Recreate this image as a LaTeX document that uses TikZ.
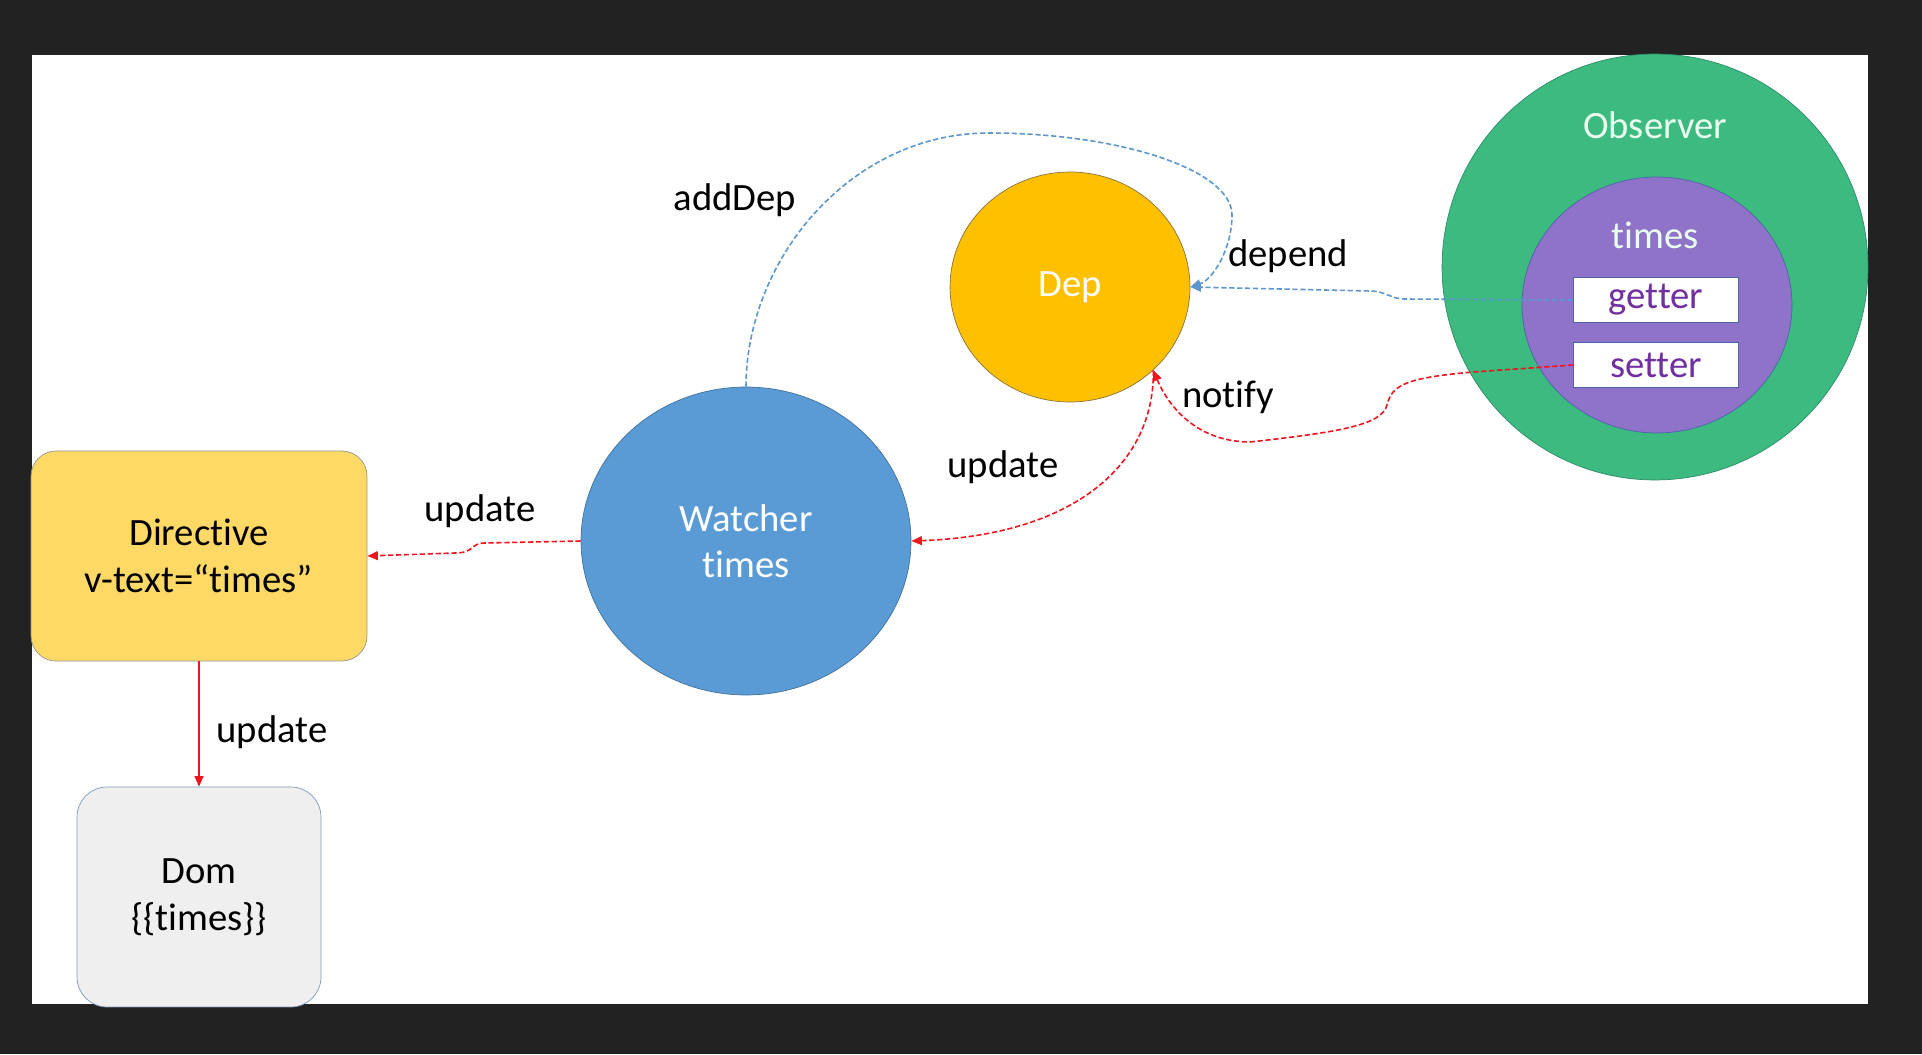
\documentclass[tikz,border=0pt]{standalone}
\usepackage{fontspec}
\setmainfont[Ligatures=NoCommon]{Carlito}
\usetikzlibrary{positioning}
\usetikzlibrary{shapes,arrows.meta}
\definecolor{darkbg}{RGB}{34,34,34}
\definecolor{obsgreen}{RGB}{60,186,128}
\definecolor{obsline}{RGB}{45,140,105}
\definecolor{timespurple}{RGB}{143,115,200}
\definecolor{timesline}{RGB}{75,100,170}
\definecolor{depgold}{RGB}{255,192,0}
\definecolor{depline}{RGB}{135,115,60}
\definecolor{watchblue}{RGB}{91,155,213}
\definecolor{watchline}{RGB}{65,113,156}
\definecolor{diryellow}{RGB}{255,217,102}
\definecolor{dirline}{RGB}{150,150,140}
\definecolor{domgray}{RGB}{239,239,239}
\definecolor{domline}{RGB}{125,155,185}
\definecolor{accpurple}{RGB}{112,48,160}
\definecolor{flowred}{RGB}{240,20,30}
\definecolor{flowblue}{RGB}{91,150,205}
\definecolor{mint}{RGB}{235,255,240}

\begin{document}
\begin{tikzpicture}[x=0.02cm, y=-0.02cm, font=\fontsize{22}{26.5}\selectfont,
    >={Triangle[length=6pt,width=5pt]},
    blob/.style={ellipse, draw, inner sep=0pt},
    box/.style={rectangle, draw, align=center, inner sep=0pt},
    redflow/.style={->, flowred, line width=0.9pt, dash pattern=on 3pt off 1.5pt},
    blueflow/.style={->, flowblue, line width=0.9pt, dash pattern=on 3pt off 1.5pt}]
     \useasboundingbox (0,0) rectangle (1922,1054);
     \fill [darkbg] (0,0) rectangle (1922,1054);
     \fill [white] (32,55) rectangle (1868,1004);

     % observer side
     \node [blob, fill=obsgreen, draw=obsline, minimum width=8.52cm, minimum height=8.52cm] (obs) at (1655,267) {};
     \node [blob, fill=timespurple, draw=timesline, minimum width=5.4cm, minimum height=5.12cm] (times) at (1657,305) {};
     \node [mint] (obslabel) at (1655,125) {Observer};
     \node [mint] (timeslabel) at (1655,235) {times};
     \node [box, fill=white, draw=timesline, text=accpurple, minimum width=3.3cm, minimum height=0.9cm] (getter) at (1656,300) {getter};
     \node [box, fill=white, draw=timesline, text=accpurple, minimum width=3.3cm, minimum height=0.9cm] (setter) at (1656,365) {setter};

     \node [blob, fill=depgold, draw=depline, text=white, minimum width=4.8cm, minimum height=4.6cm] (dep) at (1070,287) {Dep};
     \node [blob, fill=watchblue, draw=watchline, text=white, align=center, minimum width=6.6cm, minimum height=6.16cm] (watch) at (746,541) {Watcher\\times};

     \node [box, rounded corners=0.5cm, fill=diryellow, draw=dirline, minimum width=6.72cm, minimum height=4.2cm] (dir) at (199,556) {Directive\\v-text=“times”};
     \node [box, rounded corners=0.6cm, fill=domgray, draw=domline, minimum width=4.88cm, minimum height=4.4cm] (dom) at (199,897) {Dom\\\{\{times\}\}};

     % connectors
     \draw [blueflow] (watch.north) .. controls (746,260) and (850,133) .. (989,133)
        .. controls (1120,133) and (1232,170) .. (1232,215)
        .. controls (1232,250) and (1212,280) .. (dep.east);
     \draw [blueflow] (getter.west) -- (1405,299) .. controls (1390,299) and (1386,291) .. (1370,291) -- (dep.east);
     \draw [redflow] (setter.west) -- (1473,372) .. controls (1405,378) and (1392,385) .. (1387,405)
        .. controls (1382,425) and (1340,432) .. (1250,442)
        .. controls (1200,442) and (1170,410) .. (dep.-45);
     \draw [redflow] (dep.-45) .. controls (1155,460) and (1080,535) .. (watch.east);
     \draw [redflow] (watch.west) -- (485,543) .. controls (470,543) and (475,553) .. (455,553) -- (dir.east);
     \draw [->, flowred, line width=0.9pt] (dir.south) -- (dom.north);

     \node (adddep) at (735,200) {addDep};
     \node (dependlbl) at (1288,256) {depend};
     \node (notifylbl) at (1228,397) {notify};
     \node (upwatch) at (1003,467) {update};
     \node (updir) at (480,511) {update};
     \node (updom) at (272,732) {update};
\end{tikzpicture}
\end{document}
